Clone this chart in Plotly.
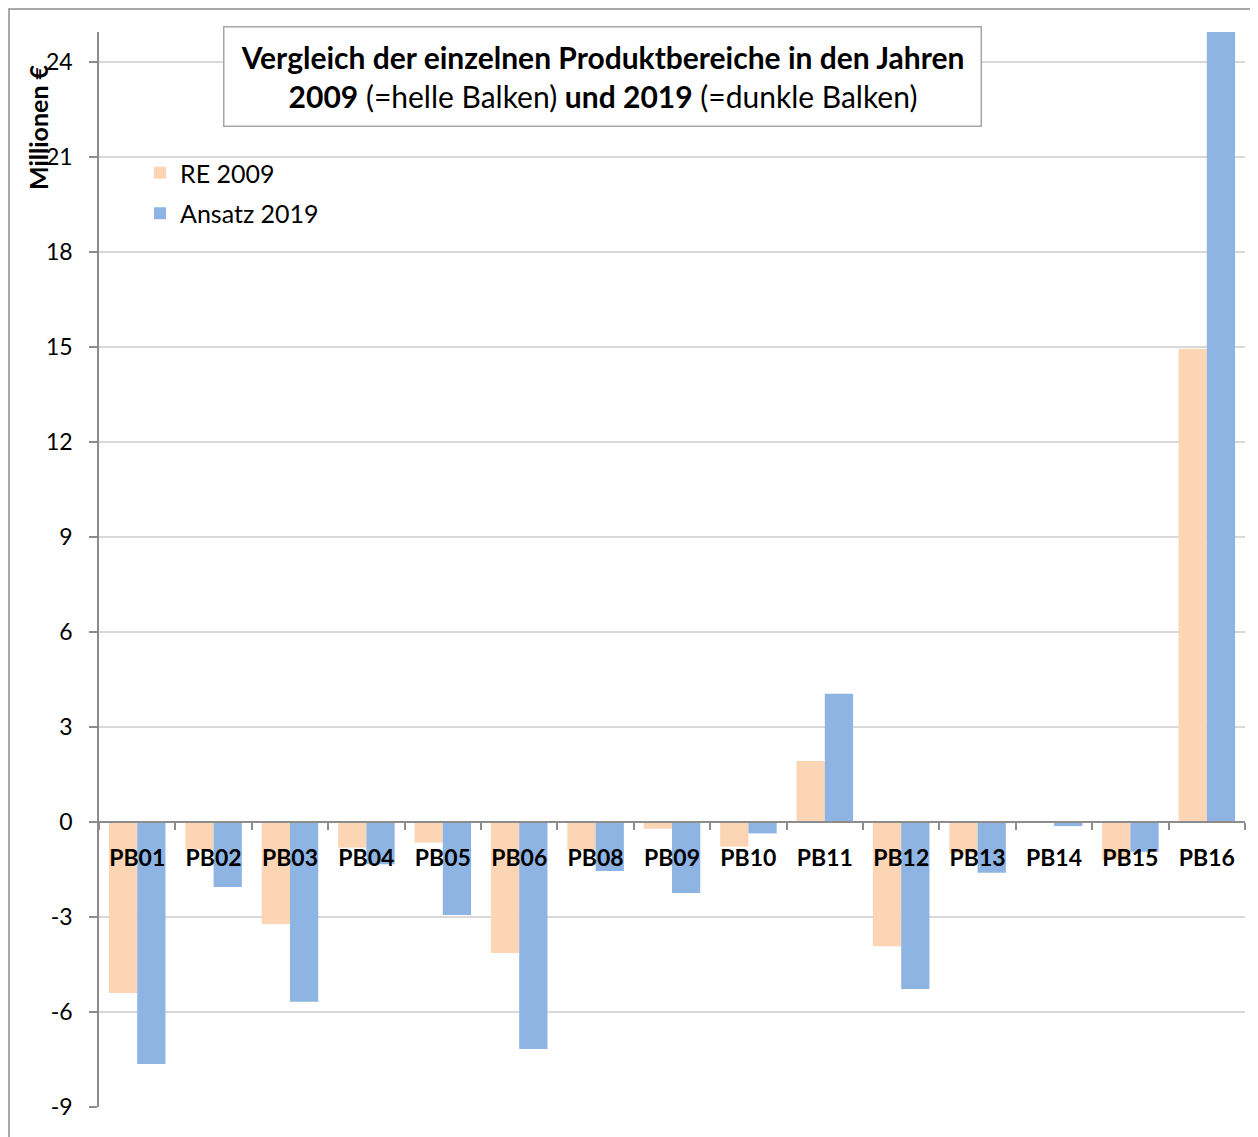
import plotly.graph_objects as go

categories = ["PB01", "PB02", "PB03", "PB04", "PB05", "PB06", "PB08", "PB09",
              "PB10", "PB11", "PB12", "PB13", "PB14", "PB15", "PB16"]
re_2009 = [-5.40, -0.87, -3.22, -0.81, -0.65, -4.14, -0.88, -0.21,
           -0.78, 1.93, -3.92, -1.00, 0.0, -1.20, 14.95]
ansatz_2019 = [-7.64, -2.05, -5.68, -1.33, -2.94, -7.17, -1.55, -2.24,
               -0.36, 4.05, -5.27, -1.60, -0.13, -0.94, 25.3]
y_ticks = [-9, -6, -3, 0, 3, 6, 9, 12, 15, 18, 21, 24]

Y_MIN, Y_MAX = -9, 24.95
OFF = 8  # page body margin
W, H = 1250, 1129
# plot area in screen pixels: left 99, right 1245, top 32, bottom 1107
ML, MT = 99 - OFF, 32 - OFF
MR = W - (1245 - OFF)
MB = H - (1107 - OFF)
PW, PH = W - ML - MR, H - MT - MB

def px_x(p):
    return (p - OFF - ML) / PW

def px_y(p):
    return (H - MB - (p - OFF)) / PH

FONT = "Lato, 'Open Sans', sans-serif"
ORANGE = "#FCD5B5"
BLUE = "#8DB4E2"

fig = go.Figure()
fig.add_trace(go.Bar(x=categories, y=re_2009, name="RE 2009", legendgroup="a",
                     marker=dict(color=ORANGE, line=dict(width=0))))
fig.add_trace(go.Bar(x=categories, y=ansatz_2019, name="Ansatz 2019", legendgroup="b",
                     marker=dict(color=BLUE, line=dict(width=0))))

zero_pos = (0 - Y_MIN) / (Y_MAX - Y_MIN)

fig.update_layout(
    width=W, height=H,
    margin=dict(l=ML, r=MR, t=MT, b=MB, autoexpand=False),
    paper_bgcolor="white", plot_bgcolor="white",
    barmode="group", bargap=0.26, bargroupgap=0,
    font=dict(family=FONT, color="black"),
    showlegend=True,
    legend=dict(x=px_x(140), y=px_y(150), xanchor="left", yanchor="top",
                bgcolor="rgba(0,0,0,0)", font=dict(size=25, family=FONT),
                itemsizing="constant", tracegroupgap=5, itemwidth=30),
    xaxis=dict(
        type="category", automargin=False,
        anchor="free", position=zero_pos,
        showline=True, linecolor="#8c8c8c", linewidth=1.5,
        ticks="outside", tickson="boundaries", ticklen=7, tickcolor="#8c8c8c",
        tickwidth=1.5, ticklabelstandoff=16,
        tickfont=dict(size=23, family=FONT, color="black", weight="bold"),
        showgrid=False, layer="above traces",
    ),
    yaxis=dict(
        range=[Y_MIN, Y_MAX], automargin=False,
        tickvals=y_ticks, ticktext=[str(v) for v in y_ticks],
        showgrid=True, gridcolor="#d9d9d9", gridwidth=1.5,
        zeroline=False,
        showline=True, linecolor="#8c8c8c", linewidth=1.5,
        ticks="outside", ticklen=8, tickcolor="#8c8c8c", tickwidth=1.5,
        ticklabelstandoff=12,
        tickfont=dict(size=23, family=FONT, color="black"),
    ),
)

# outer chart frame
fig.add_shape(type="rect", xref="paper", yref="paper",
              x0=px_x(9), x1=px_x(1275), y0=px_y(1150), y1=px_y(9),
              line=dict(color="#8c8c8c", width=1.5), fillcolor="rgba(0,0,0,0)",
              layer="below")

# y axis title
fig.add_annotation(xref="paper", yref="paper", x=px_x(38), y=px_y(127),
                   text="<b>Millionen €</b>", textangle=-90, showarrow=False,
                   font=dict(size=25, family=FONT, color="black"),
                   xanchor="center", yanchor="middle")

# chart title box
fig.add_annotation(xref="paper", yref="paper", x=px_x(602.5), y=px_y(76.5),
                   text="<b>Vergleich der einzelnen Produktbereiche in den Jahren</b><br>"
                        "<b>2009</b> (=helle Balken) <b>und 2019</b> (=dunkle Balken)",
                   showarrow=False, xanchor="center", yanchor="middle",
                   align="center", width=754, height=96,
                   bgcolor="white", bordercolor="#a6a6a6", borderwidth=1.5,
                   borderpad=1,
                   font=dict(size=30, family=FONT, color="black"))

fig.write_html("out.html")
